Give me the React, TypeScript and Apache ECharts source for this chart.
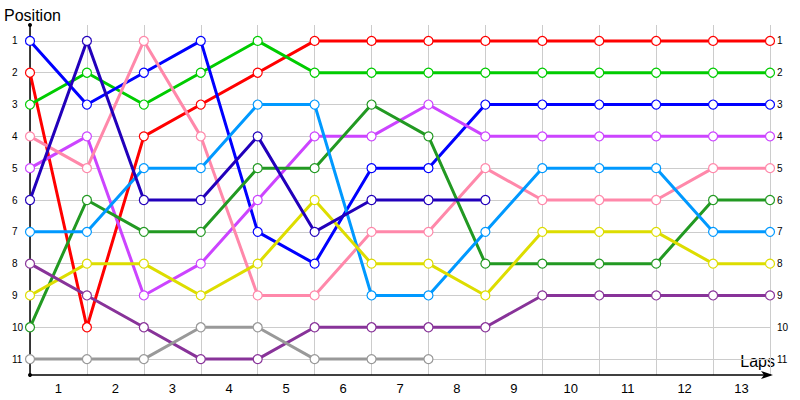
import React, { useEffect, useRef } from 'react';
import * as echarts from 'echarts';

const lapLabels = ['1', '2', '3', '4', '5', '6', '7', '8', '9', '10', '11', '12', '13'];
const seriesNames = ['Red', 'Green', 'Blue', 'Violet', 'Pink', 'Dark green', 'Light blue', 'Yellow', 'Plum', 'Indigo', 'Grey'];
const seriesColors = ['#ff0000', '#00cc00', '#0000ff', '#cc44ff', '#ff88aa', '#229922', '#0099ff', '#dddd00', '#883399', '#2200bb', '#999999'];

const red = [2, 10, 4, 3, 2, 1, 1, 1, 1, 1, 1, 1, 1, 1];
const green = [3, 2, 3, 2, 1, 2, 2, 2, 2, 2, 2, 2, 2, 2];
const blue = [1, 3, 2, 1, 7, 8, 5, 5, 3, 3, 3, 3, 3, 3];
const violet = [5, 4, 9, 8, 6, 4, 4, 3, 4, 4, 4, 4, 4, 4];
const pink = [4, 5, 1, 4, 9, 9, 7, 7, 5, 6, 6, 6, 5, 5];
const darkGreen = [10, 6, 7, 7, 5, 5, 3, 4, 8, 8, 8, 8, 6, 6];
const lightBlue = [7, 7, 5, 5, 3, 3, 9, 9, 7, 5, 5, 5, 7, 7];
const yellow = [9, 8, 8, 9, 8, 6, 8, 8, 9, 7, 7, 7, 8, 8];
const plum = [8, 9, 10, 11, 11, 10, 10, 10, 10, 9, 9, 9, 9, 9];
const indigo = [6, 1, 6, 6, 4, 7, 6, 6, 6];
const grey = [11, 11, 11, 10, 10, 11, 11, 11];

const allSeries = [red, green, blue, violet, pink, darkGreen, lightBlue, yellow, plum, indigo, grey];

const FONT = '"Liberation Sans", Arial, sans-serif';

export default function App() {
  const ref = useRef<HTMLDivElement>(null);
  useEffect(() => {
    if (!ref.current) return;
    const chart = echarts.init(ref.current, undefined, { renderer: 'svg' });
    const yLabelFormatter = (v: number) => (Number.isInteger(v) ? String(v) : '');
    chart.setOption({
      animation: false,
      backgroundColor: '#ffffff',
      grid: { left: 30, right: 30, top: 25, bottom: 25, containLabel: false },
      graphic: [
        {
          type: 'text',
          left: 4,
          top: 7,
          style: { text: 'Position', font: `16px ${FONT}`, fill: '#000' },
        },
        {
          type: 'text',
          x: 775,
          y: 369,
          style: { text: 'Laps', font: `16px ${FONT}`, fill: '#000', align: 'right', verticalAlign: 'bottom' },
        },
      ],
      xAxis: [
        {
          type: 'value',
          min: 0,
          max: lapLabels.length,
          interval: 1,
          axisLine: {
            show: true,
            lineStyle: { color: '#000', width: 1.5 },
            symbol: ['none', 'arrow'],
            symbolSize: [6, 12],
            symbolOffset: [0, 3],
          },
          axisTick: { show: false },
          axisLabel: { show: false },
          splitLine: { show: true, lineStyle: { color: '#cccccc', width: 1 } },
        },
        {
          type: 'category',
          data: lapLabels,
          boundaryGap: true,
          position: 'bottom',
          axisLine: { show: false },
          axisTick: { show: false },
          splitLine: { show: false },
          axisLabel: { color: '#000', fontSize: 13, fontFamily: FONT, margin: 7 },
        },
      ],
      yAxis: [
        {
          type: 'value',
          inverse: true,
          min: 0.5,
          max: 11.5,
          minInterval: 1,
          maxInterval: 1,
          axisLine: {
            show: true,
            lineStyle: { color: '#000', width: 1.5 },
            symbol: ['circle', 'circle'],
            symbolSize: [4, 4],
          },
          axisTick: { show: false },
          axisLabel: { color: '#000', fontSize: 10, fontFamily: FONT, align: 'left', margin: 18, formatter: yLabelFormatter },
          splitLine: { show: true, showMinLine: false, showMaxLine: false, lineStyle: { color: '#cccccc', width: 1 } },
        },
        {
          type: 'value',
          inverse: true,
          position: 'right',
          min: 0.5,
          max: 11.5,
          minInterval: 1,
          maxInterval: 1,
          axisLine: { show: false },
          axisTick: { show: false },
          axisLabel: { color: '#000', fontSize: 10, fontFamily: FONT, align: 'left', margin: 7, formatter: yLabelFormatter },
          splitLine: { show: false },
        },
      ],
      series: allSeries.map((vals, si) => ({
        name: seriesNames[si],
        type: 'line',
        xAxisIndex: 0,
        yAxisIndex: 0,
        data: vals.map((v, i) => [i, v]),
        symbol: 'circle',
        symbolSize: 9,
        showAllSymbol: true,
        lineStyle: { color: seriesColors[si], width: 3 },
        itemStyle: { color: '#ffffff', borderColor: seriesColors[si], borderWidth: 1.2 },
        emphasis: { disabled: true },
      })),
    });
    return () => chart.dispose();
  }, []);
  return <div ref={ref} style={{ width: 800, height: 400, position: 'absolute', left: 0, top: 0 }} />;
}
